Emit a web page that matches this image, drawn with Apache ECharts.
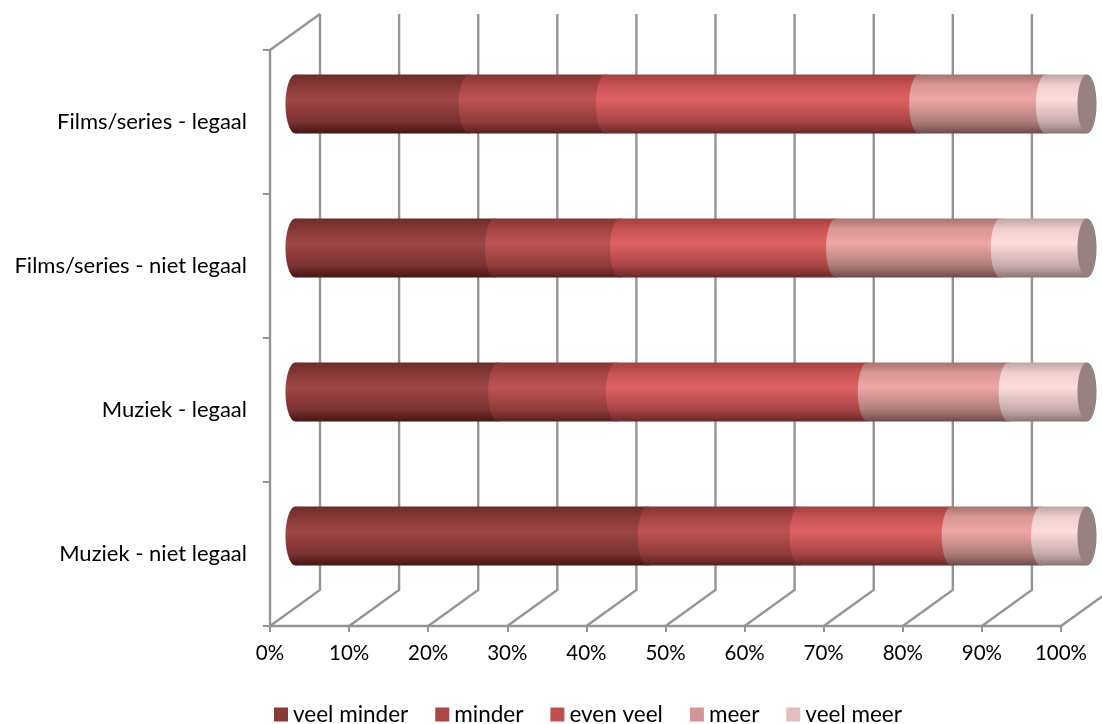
<!DOCTYPE html>
<html><head><meta charset="utf-8">
<style>html,body{margin:0;padding:0;background:#fff}#c{width:1102px;height:724px}</style>
<script src="https://cdn.jsdelivr.net/npm/echarts@6/dist/echarts.min.js"></script>
</head><body><div id="c"></div>
<script>
// Data, bottom row first (as the category axis runs upward)
const categories = ['Muziek - niet legaal', 'Muziek - legaal', 'Films/series - niet legaal', 'Films/series - legaal'];
const seriesNames = ['veel minder', 'minder', 'even veel', 'meer', 'veel meer'];
const veelMinder = [44.5, 25.6, 25.2, 21.9];
const minder     = [19.2, 14.9, 15.8, 17.3];
const evenVeel   = [19.2, 31.8, 27.3, 39.6];
const meer       = [11.3, 17.8, 20.8, 16.0];
const veelMeer   = [5.8, 9.9, 10.9, 5.2];
const xTicks = [0, 10, 20, 30, 40, 50, 60, 70, 80, 90, 100];
const values = [veelMinder, minder, evenVeel, meer, veelMeer];

const legendColors = ['#8B3A3A', '#AD4747', '#C04F4F', '#D29494', '#E4BEBE'];
const ramps = [
  ['#6B2B2B', '#873838', '#9C4746', '#7A3232', '#441615'],
  ['#853634', '#A54442', '#BC5451', '#8F3B39', '#572120'],
  ['#A04040', '#C95252', '#DF6262', '#A84545', '#6B2828'],
  ['#A67272', '#DA9696', '#EFA6A6', '#B07C7C', '#6E4A4A'],
  ['#BEA5A5', '#EFCFCF', '#FFDCDC', '#C6ACAC', '#8A7676']
];
const capColor = '#968080';
const DX = 50, DY = 36, RX = 10, BAR = 59 / 144;
const axisGrey = '#949494';

function grad(r) {
  return new echarts.graphic.LinearGradient(0, 0, 0, 1, [
    {offset: 0, color: r[0]}, {offset: 0.18, color: r[1]}, {offset: 0.42, color: r[2]},
    {offset: 0.8, color: r[3]}, {offset: 1, color: r[4]}]);
}
function segRender(si) {
  return function (params, api) {
    const start = api.value(0), end = api.value(1), cat = api.value(2);
    const p0 = api.coord([start, cat]), p1 = api.coord([end, cat]);
    const h = api.size([0, 1])[1] * BAR, t = p0[1] - h / 2, ry = h / 2;
    const fill = grad(ramps[si]);
    const kids = [
      {type: 'rect', shape: {x: p0[0], y: t, width: p1[0] - p0[0], height: h}, style: {fill}},
      {type: 'ellipse', shape: {cx: p0[0], cy: p0[1], rx: RX, ry}, style: {fill}}
    ];
    if (si === values.length - 1) {
      kids.push({type: 'ellipse', shape: {cx: p1[0], cy: p0[1], rx: RX - 0.5, ry}, style: {fill: capColor}});
    }
    return {type: 'group', children: kids};
  };
}
const cum = categories.map(() => 0);
const segSeries = seriesNames.map((name, si) => {
  const data = categories.map((c, ci) => {
    const s = cum[ci]; cum[ci] += values[si][ci];
    return [s, si === values.length - 1 ? 100 : cum[ci], ci];
  });
  return {name, type: 'custom', xAxisIndex: 1, yAxisIndex: 1, renderItem: segRender(si), data,
    encode: {x: [0, 1], y: 2}, clip: false, z: 5 + si,
    itemStyle: {color: legendColors[si]}, silent: true};
});

const wallSeries = {type: 'custom', xAxisIndex: 0, yAxisIndex: 0, clip: false, z: 1, silent: true,
  data: xTicks.map(v => [v, 0]), encode: {x: 0, y: 1},
  renderItem(params, api) {
    const cs = params.coordSys, v = api.value(0), x = api.coord([v, 0])[0], y = cs.y + cs.height, top = cs.y;
    const style = {fill: 'none', stroke: axisGrey, lineWidth: 2.4};
    const kids = [{type: 'polyline', shape: {points: [[x, y], [x + DX, y - DY], [x + DX, top - DY]]}, style}];
    if (v === 0) kids.push({type: 'polyline', shape: {points: [[x, top], [x + DX, top - DY]]}, style});
    return {type: 'group', children: kids};
  }};

const font = 'Lato';
const chart = echarts.init(document.getElementById('c'), null, {renderer: 'canvas'});
chart.setOption({
  animation: false, backgroundColor: '#fff',
  textStyle: {fontFamily: font, color: '#000'},
  grid: [
    {left: 270, top: 50, width: 791, height: 576},
    {left: 295.5, top: 32, width: 791.5, height: 576}
  ],
  xAxis: [
    {gridIndex: 0, type: 'value', min: 0, max: 100, interval: 10, splitLine: {show: false},
     axisLine: {show: true, onZero: false, lineStyle: {color: axisGrey, width: 2.4}},
     axisTick: {show: true, length: 6, lineStyle: {color: axisGrey, width: 2}},
     axisLabel: {formatter: '{value}%', margin: 17, fontSize: 20.5, fontFamily: font, color: '#000'}},
    {gridIndex: 1, type: 'value', min: 0, max: 100, show: false}
  ],
  yAxis: [
    {gridIndex: 0, type: 'category', data: categories,
     axisLine: {show: true, lineStyle: {color: axisGrey, width: 2.4}},
     axisTick: {show: true, length: 7, lineStyle: {color: axisGrey, width: 2}},
     axisLabel: {margin: 23, fontSize: 22, fontFamily: font, color: '#000'}},
    {gridIndex: 1, type: 'category', data: categories, show: false}
  ],
  legend: {show: true, data: seriesNames, left: 274, top: 703, padding: 0, itemWidth: 14, itemHeight: 14, itemGap: 27,
    icon: 'rect', textStyle: {fontSize: 22.5, fontFamily: font, color: '#000'}},
  series: [wallSeries].concat(segSeries)
});
</script></body></html>
